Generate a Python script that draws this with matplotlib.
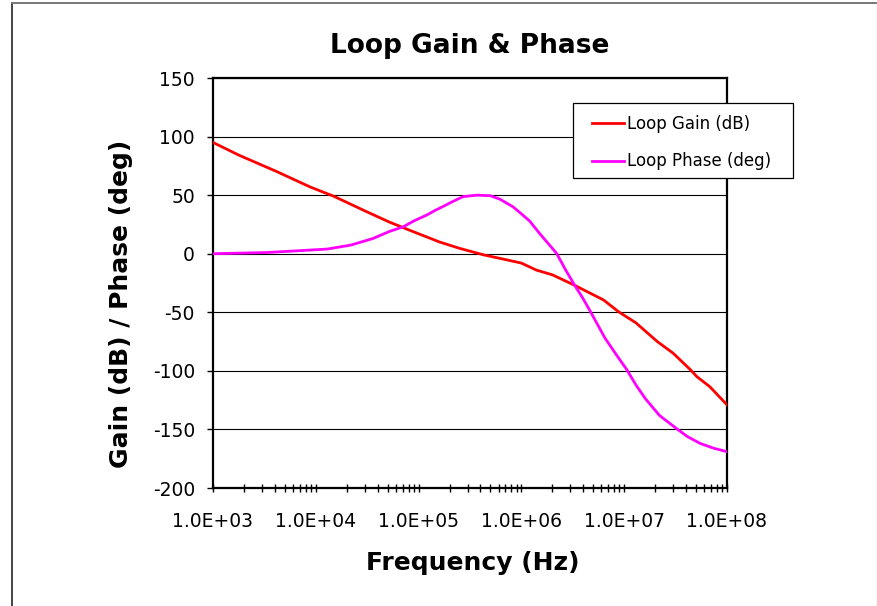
import numpy as np
import matplotlib
matplotlib.use('Agg')
import matplotlib.pyplot as plt
from matplotlib.ticker import FixedLocator, LogLocator, FuncFormatter, NullFormatter
from matplotlib.patches import Rectangle
from matplotlib.lines import Line2D

# loop gain (dB)
gain_freq = [1.0e3, 1.8e3, 4.2e3, 8.8e3, 1.5e4, 3.1e4, 5.2e4, 8.2e4, 1.6e5, 2.5e5,
             4.3e5, 6.2e5, 1.0e6, 1.4e6, 2.0e6, 3.3e6, 6.3e6, 8.8e6, 1.3e7, 2.1e7,
             3.0e7, 4.4e7, 5.1e7, 6.8e7, 1.0e8]
gain_db = [95, 84, 70, 57, 49, 36, 27, 20, 10, 4.6,
           -1, -4, -8, -14, -18, -27, -39.5, -49.5, -59, -75,
           -85, -99, -105, -113.5, -129]

# loop phase (deg)
phase_freq = [1.0e3, 3.3e3, 7.0e3, 1.3e4, 2.2e4, 3.6e4, 5.2e4, 7.1e4, 9.0e4, 1.2e5,
              1.45e5, 1.7e5, 2.2e5, 2.7e5, 3.7e5, 5.0e5, 6.2e5, 8.3e5, 1.0e6, 1.2e6,
              1.5e6, 2.2e6, 2.7e6, 3.3e6, 3.9e6, 4.6e6, 6.5e6, 8.5e6, 1.06e7, 1.3e7,
              1.6e7, 2.2e7, 3.2e7, 4.1e7, 5.5e7, 7.4e7, 1.0e8]
phase_deg = [0, 1, 2.6, 4, 7.4, 13, 19, 23, 28, 33,
             37, 40, 45, 48.7, 50, 49.5, 46.5, 40, 34, 28,
             17.4, 0.3, -14, -27, -37, -48, -72, -87, -99, -112,
             -123.5, -138, -149, -156, -162, -166, -169]

x_ticks = [1e3, 1e4, 1e5, 1e6, 1e7, 1e8]
y_ticks = [-200, -150, -100, -50, 0, 50, 100, 150]

W, H = 878, 606
fig = plt.figure(figsize=(W / 100, H / 100), dpi=100)
ax = fig.add_axes([213 / W, 1 - 488 / H, (727 - 213) / W, (488 - 78) / H])

ax.plot(gain_freq, gain_db, color='#FF0000', lw=2.0, label='Loop Gain (dB)', zorder=3)
ax.plot(phase_freq, phase_deg, color='#FF00FF', lw=2.0, label='Loop Phase (deg)', zorder=3)

ax.set_xscale('log')
ax.set_xlim(1e3, 1e8)
ax.set_ylim(-200, 150)

ax.xaxis.set_major_locator(FixedLocator(x_ticks))
ax.xaxis.set_major_formatter(FuncFormatter(lambda v, p: '%.1E' % v))
ax.xaxis.set_minor_locator(LogLocator(base=10, subs=np.arange(2, 10)))
ax.xaxis.set_minor_formatter(NullFormatter())
ax.yaxis.set_major_locator(FixedLocator(y_ticks))
ax.yaxis.set_major_formatter(FuncFormatter(lambda v, p: '%d' % v))

ax.grid(axis='y', color='black', lw=0.8)
ax.set_axisbelow(True)
for s in ax.spines.values():
    s.set_linewidth(1.6)
    s.set_color('black')

ax.tick_params(axis='x', which='both', direction='inout', length=6, width=1, pad=14,
               labelsize=13.5, top=False)
ax.tick_params(axis='y', which='major', direction='out', length=4, width=1, pad=9,
               labelsize=13.5, right=False)

ax.set_xlabel('Frequency (Hz)', fontsize=18, fontweight='bold', va='center')
ax.xaxis.set_label_coords(0.506, -0.183)
ax.set_ylabel('Gain (dB) / Phase (deg)', fontsize=18, fontweight='bold', va='center')
ax.yaxis.set_label_coords(-0.179, 0.45)

fig.text(470 / W, 1 - 53 / H, 'Loop Gain & Phase', fontsize=19, fontweight='bold',
         ha='center', va='baseline')

# legend box
ax.add_patch(Rectangle((573 / W, 1 - 178 / H), 220 / W, 75 / H, transform=fig.transFigure,
                       facecolor='white', edgecolor='black', lw=0.9, clip_on=False, zorder=4))
leg = ax.legend(loc='upper left', bbox_to_anchor=(584 / W, 1 - 107 / H),
                bbox_transform=fig.transFigure, frameon=False, fontsize=12,
                borderpad=0, handlelength=1.9, handletextpad=0.2, labelspacing=1.15)
leg.set_zorder(5)

# outer chart border
fig.add_artist(Line2D([11.5 / W, 11.5 / W], [0, 1 - 2.5 / H], color='#444444', lw=1.4))
fig.add_artist(Line2D([11.5 / W, 1], [1 - 2.5 / H, 1 - 2.5 / H], color='#777777', lw=1.4))
fig.add_artist(Line2D([877 / W, 877 / W], [0, 1 - 2.5 / H], color='#cccccc', lw=1.0))

fig.savefig('out.png', dpi=100)
